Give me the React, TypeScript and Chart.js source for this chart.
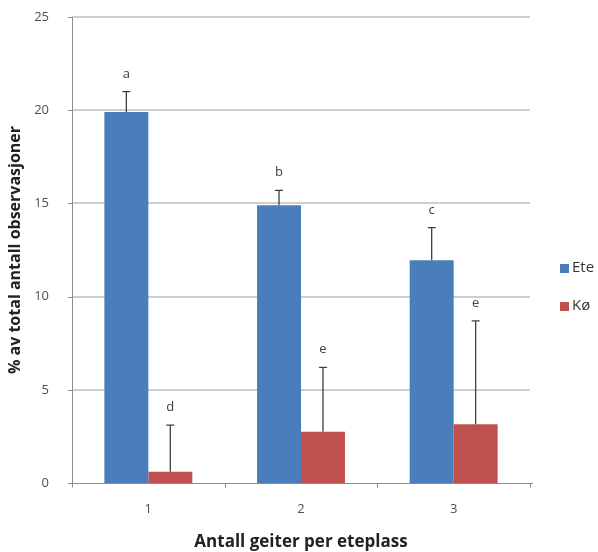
import React, { useEffect, useRef } from "react";
import { Chart, registerables } from "chart.js";

Chart.register(...registerables);

const categories = ["1", "2", "3"];
const eteValues = [19.9, 14.9, 11.95];
const koValues = [0.6, 2.75, 3.15];
const eteErrorTop = [21.0, 15.7, 13.7];
const koErrorTop = [3.1, 6.2, 8.7];
const eteLetters = ["a", "b", "c"];
const koLetters = ["d", "e", "e"];
const yTicks = [0, 5, 10, 15, 20, 25];
const seriesNames = ["Ete", "Kø"];
const seriesColors = ["#4a7ebb", "#c0504d"];

const FONT = "'Open Sans', 'Liberation Sans', sans-serif";

const gridPlugin = {
  id: "customGrid",
  beforeDatasetsDraw(chart: any) {
    const ctx = chart.ctx;
    const yScale = chart.scales.y;
    const area = chart.chartArea;
    ctx.save();
    ctx.strokeStyle = "#c0c0c0";
    ctx.lineWidth = 1.6;
    ctx.beginPath();
    yTicks.forEach((v) => {
      if (v === 0) return;
      const y = Math.round(yScale.getPixelForValue(v));
      ctx.moveTo(area.left, y);
      ctx.lineTo(area.right, y);
    });
    ctx.stroke();
    ctx.strokeStyle = "#8c8c8c";
    ctx.lineWidth = 1;
    ctx.beginPath();
    yTicks.forEach((v) => {
      const y = Math.round(yScale.getPixelForValue(v)) + 0.5;
      ctx.moveTo(area.left - 4, y);
      ctx.lineTo(area.left, y);
    });
    ctx.stroke();
    ctx.restore();
  },
};

const errorPlugin = {
  id: "errorBarsAndLetters",
  afterDatasetsDraw(chart: any) {
    const ctx = chart.ctx;
    const yScale = chart.scales.y;
    const area = chart.chartArea;
    const tops = [eteErrorTop, koErrorTop];
    const letters = [eteLetters, koLetters];
    ctx.save();
    for (let d = 0; d < 2; d++) {
      const meta = chart.getDatasetMeta(d);
      meta.data.forEach((bar: any, i: number) => {
        const x = bar.x;
        const yv = bar.y;
        const yt = yScale.getPixelForValue(tops[d][i]);
        ctx.strokeStyle = "#404040";
        ctx.lineWidth = 1.3;
        ctx.beginPath();
        ctx.moveTo(x, yv);
        ctx.lineTo(x, yt);
        ctx.moveTo(x - 4, yt);
        ctx.lineTo(x + 4, yt);
        ctx.stroke();
        ctx.fillStyle = "#404040";
        ctx.font = `13px ${FONT}`;
        ctx.textAlign = "center";
        ctx.textBaseline = "alphabetic";
        ctx.fillText(letters[d][i], x, yt - 14);
      });
    }
    const lx = area.right + 30;
    const ly = [268, 306];
    for (let s = 0; s < 2; s++) {
      ctx.fillStyle = seriesColors[s];
      ctx.fillRect(lx, ly[s] - 4, 9, 9);
      ctx.fillStyle = "#333333";
      ctx.font = `15px ${FONT}`;
      ctx.textAlign = "left";
      ctx.textBaseline = "middle";
      ctx.fillText(seriesNames[s], lx + 12, ly[s]);
    }
    ctx.restore();
  },
  afterDraw(chart: any) {
    const ctx = chart.ctx;
    const area = chart.chartArea;
    ctx.save();
    // mask anything drawn on the right edge of the plot area
    ctx.fillStyle = "#ffffff";
    ctx.fillRect(Math.round(area.right), area.top - 3, 3, area.bottom - area.top + 2);
    // axis lines and x tick marks at category boundaries
    const n = categories.length;
    const step = (area.right - area.left) / n;
    const yb = Math.round(area.bottom) + 0.5;
    const xl = Math.round(area.left) + 0.5;
    ctx.strokeStyle = "#8c8c8c";
    ctx.lineWidth = 1;
    ctx.beginPath();
    ctx.moveTo(xl, Math.round(area.top));
    ctx.lineTo(xl, yb);
    ctx.moveTo(area.left, yb);
    ctx.lineTo(area.right + 3, yb);
    for (let i = 0; i <= n; i++) {
      const x = Math.round(area.left + i * step) + 0.5;
      ctx.moveTo(x, yb);
      ctx.lineTo(x, yb + 4);
    }
    ctx.stroke();
    ctx.restore();
  },
};

export default function App() {
  const ref = useRef<HTMLCanvasElement | null>(null);
  useEffect(() => {
    if (!ref.current) return;
    const chart = new Chart(ref.current, {
      type: "bar",
      data: {
        labels: categories,
        datasets: [
          {
            label: seriesNames[0],
            data: eteValues,
            backgroundColor: seriesColors[0],
            categoryPercentage: 0.576,
            barPercentage: 1,
          },
          {
            label: seriesNames[1],
            data: koValues,
            backgroundColor: seriesColors[1],
            categoryPercentage: 0.576,
            barPercentage: 1,
          },
        ],
      },
      options: {
        animation: false,
        responsive: false,
        devicePixelRatio: 1,
        layout: { padding: { top: 17, right: 68, left: 0, bottom: 0 } },
        plugins: {
          legend: { display: false },
          tooltip: { enabled: false },
        },
        scales: {
          x: {
            grid: { display: false },
            border: { display: false },
            ticks: {
              color: "#505050",
              font: { family: FONT, size: 13 },
              padding: 10,
            },
            title: {
              display: true,
              text: "Antall geiter per eteplass",
              color: "#222222",
              padding: { top: 0, bottom: 0 },
              font: { family: FONT, size: 17, weight: "bold", lineHeight: 1.1 },
            },
            afterFit(scale: any) {
              scale.height = 552 - 483;
              scale.paddingLeft = 0;
              scale.paddingRight = 0;
            },
          },
          y: {
            min: 0,
            max: 25,
            afterBuildTicks(scale: any) {
              scale.ticks = yTicks.map((v) => ({ value: v }));
            },
            grid: { display: false },
            border: { display: false },
            ticks: {
              color: "#505050",
              font: { family: FONT, size: 13 },
              padding: 15,
            },
            title: {
              display: true,
              text: "% av total antall observasjoner",
              color: "#222222",
              padding: { top: 0, bottom: 0 },
              font: { family: FONT, size: 16, weight: "bold", lineHeight: 1.9 },
            },
            afterFit(scale: any) {
              scale.width = 72;
              scale.paddingTop = 0;
              scale.paddingBottom = 0;
            },
          },
        },
      },
      plugins: [gridPlugin, errorPlugin],
    });
    return () => chart.destroy();
  }, []);
  return (
    <div style={{ position: "absolute", left: 0, top: 0, width: 598, height: 552, background: "#fff" }}>
      <canvas ref={ref} width={598} height={552} />
    </div>
  );
}
